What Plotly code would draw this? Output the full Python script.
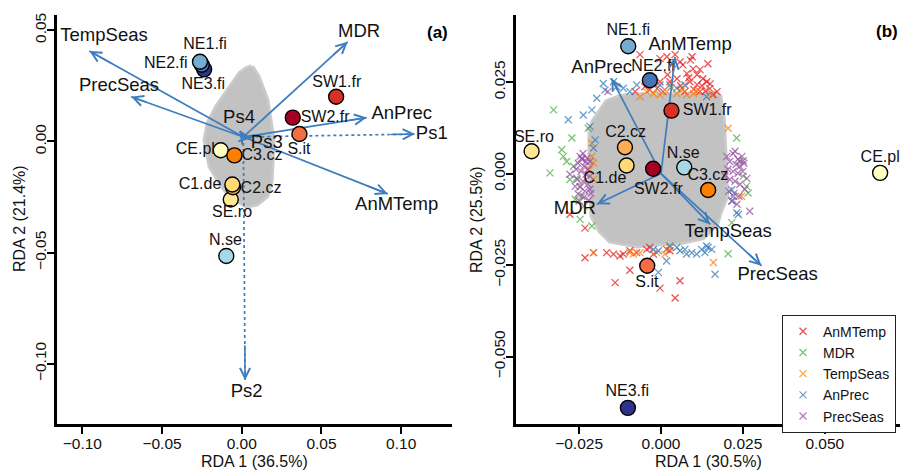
import plotly.graph_objects as go

FONT = "Liberation Sans, Arial, Helvetica, sans-serif"
ARROW_COL = "#3D7DBF"

# ---------------- site data ----------------
sites = ["SE.ro", "CE.pl", "C2.cz", "C1.de", "C3.cz", "S.it", "SW2.fr", "SW1.fr",
         "N.se", "NE3.fi", "NE2.fi", "NE1.fi"]
site_colors = ["#FEE795", "#FFFFC4", "#FDAE55", "#FED976", "#FC7F00", "#F46D43",
               "#A50026", "#D73027", "#A6D8E8", "#2E348C", "#4575B4", "#74ADD1"]

# panel (a) site scores and label positions
a_site_x = [-0.0069, -0.0132, -0.0055, -0.0059, -0.0046, 0.0362, 0.0320, 0.0592,
            -0.0097, -0.0236, -0.0251, -0.0262]
a_site_y = [-0.0261, -0.0040, -0.0206, -0.0194, -0.0063, 0.0033, 0.0107, 0.0201,
            -0.0515, 0.0324, 0.0345, 0.0358]
a_lab_x = [-0.0061, -0.0291, 0.0121, -0.0262, 0.0127, 0.0359, 0.0523, 0.0596,
           -0.0103, -0.0241, -0.0477, -0.0230]
a_lab_y = [-0.0321, -0.0040, -0.0212, -0.0194, -0.0067, -0.0037, 0.0104, 0.0264,
           -0.0448, 0.0254, 0.0350, 0.0433]

# panel (b) site scores and label positions
b_site_x = [-0.0395, 0.0669, -0.0110, -0.0105, 0.0144, -0.0042, -0.0024, 0.0032,
            0.0071, -0.0101, -0.0034, -0.0100]
b_site_y = [0.0061, 0.0002, 0.0072, 0.0022, -0.0045, -0.0252, 0.0013, 0.0172,
            0.0017, -0.0640, 0.0255, 0.0348]
b_lab_x = [-0.0388, 0.0669, -0.0108, -0.0171, 0.0143, -0.0043, -0.0008, 0.0141,
           0.0068, -0.0103, -0.0024, -0.0100]
b_lab_y = [0.0097, 0.0042, 0.0112, -0.0016, -0.0007, -0.0298, -0.0046, 0.0172,
           0.0053, -0.0597, 0.0290, 0.0389]

# ---------------- biplot arrows ----------------
a_origin = (0.001, 0.002)
a_vars = ["TempSeas", "PrecSeas", "MDR", "AnPrec", "AnMTemp", "Ps1", "Ps2", "Ps3", "Ps4"]
a_vx = [-0.0956, -0.0694, 0.0665, 0.0784, 0.0916, 0.1087, 0.0021, 0.0060, -0.0015]
a_vy = [0.0406, 0.0201, 0.0448, 0.0107, -0.0236, 0.0033, -0.1074, 0.0015, 0.0045]
a_dotted = [False, False, False, False, False, True, True, True, True]
a_vlab_x = [-0.0864, -0.0770, 0.0736, 0.1004, 0.0972, 0.1192, 0.0031, 0.0157, -0.0017]
a_vlab_y = [0.0474, 0.0246, 0.0489, 0.0120, -0.0286, 0.0033, -0.1127, -0.0008, 0.0104]

b_origin = (0.0, 0.0)
b_vars = ["AnMTemp", "AnPrec", "MDR", "TempSeas", "PrecSeas"]
b_vx = [0.0043, -0.0151, -0.0196, 0.0150, 0.0307]
b_vy = [0.0319, 0.0260, -0.0084, -0.0139, -0.0252]
b_vlab_x = [0.0089, -0.0181, -0.0263, 0.0205, 0.0356]
b_vlab_y = [0.0349, 0.0287, -0.0098, -0.0162, -0.0277]

# ---------------- SNP clouds (outline of the grey point mass) ----------------
a_cloud_x = [0.0063, 0.0102, 0.0157, 0.0178, 0.0196, 0.0190, 0.0184, 0.0157, 0.0094,
             0.0031, -0.0073, -0.0136, -0.0199, -0.0230, -0.0210, -0.0157, -0.0084,
             -0.0011, 0.0031]
a_cloud_y = [0.0336, 0.0291, 0.0188, 0.0081, 0.0009, -0.0090, -0.0179, -0.0246, -0.0282,
             -0.0291, -0.0246, -0.0188, -0.0112, 0.0009, 0.0082, 0.0157, 0.0233,
             0.0306, 0.0328]
b_cloud_x = [-0.00855, 0.01709, 0.01801, 0.01902, 0.01954, 0.02006, 0.01801, 0.01700,
             0.01282, 0.00580, -0.00131, -0.00742, -0.01557, -0.01862, -0.02106,
             -0.02167, -0.02167, -0.02076, -0.01658, -0.01252]
b_cloud_y = [0.02157, 0.02157, 0.02103, 0.01477, 0.00560, -0.00618, -0.01072, -0.01379,
             -0.01752, -0.01888, -0.01923, -0.01978, -0.01842, -0.01570, -0.01162,
             0.00063, 0.01151, 0.01423, 0.01967, 0.02103]

# ---------------- candidate SNPs coloured by strongest predictor (panel b) ----------------
anmtemp_x = [-0.0064, -0.0003, 0.0018, 0.0043, 0.0058, 0.0067, 0.0095, 0.0098, 0.0079, 0.0110,
             0.0119, 0.0128, 0.0140, 0.0149, 0.0159, 0.0110, 0.0088, 0.0049, 0.0027, -0.0003,
             -0.0012, 0.0006, 0.0119, -0.0049, -0.0034, 0.0073, 0.0171, -0.0079, 0.0143,
             0.0085, 0.0125, 0.0100, 0.0060, 0.0150, 0.0035, 0.0020, -0.0020, 0.0135, 0.0090,
             -0.0232, -0.0206, -0.0166, -0.0145, -0.0125, -0.0115, -0.0095, -0.0074, -0.0044,
             -0.0023, 0.0017, -0.0095, -0.0140, -0.0003, 0.0058, 0.0043, -0.0034, 0.0027,
             -0.0278, -0.0232]
anmtemp_y = [0.0325, 0.0314, 0.0319, 0.0325, 0.0305, 0.0297, 0.0319, 0.0286, 0.0273, 0.0270,
             0.0284, 0.0259, 0.0251, 0.0232, 0.0216, 0.0243, 0.0251, 0.0259, 0.0251, 0.0251,
             0.0232, 0.0224, 0.0224, 0.0237, 0.0229, 0.0224, 0.0224, 0.0224, 0.0300,
             0.0262, 0.0240, 0.0230, 0.0240, 0.0245, 0.0300, 0.0270, 0.0245, 0.0225, 0.0310,
             -0.0230, -0.0216, -0.0216, -0.0220, -0.0225, -0.0220, -0.0211, -0.0216, -0.0207,
             -0.0220, -0.0207, -0.0264, -0.0298, -0.0313, -0.0293, -0.0340, -0.0202, -0.0211,
             -0.0111, -0.0149]
mdr_x = [-0.0328, -0.0339, -0.0298, -0.0288, -0.0272, -0.0267, -0.0257, -0.0247, -0.0278,
         -0.0242, -0.0247, -0.0211, -0.0222, -0.0303, -0.0235, -0.0262,
         0.0231, 0.0251, 0.0261, 0.0266, 0.0216, 0.0205, 0.0241]
mdr_y = [0.0174, 0.0002, 0.0047, 0.0033, 0.0097, 0.0020, -0.0012, -0.0035, -0.0016,
         -0.0062, -0.0125, -0.0143, 0.0124, 0.0065, -0.0089, -0.0070,
         0.0097, -0.0007, -0.0035, -0.0053, -0.0134, -0.0219, 0.0033]
tempseas_x = [-0.0044, -0.0023, -0.0003, 0.0017, 0.0048, 0.0058, 0.0078, 0.0099, -0.0064, 0.0155,
              0.0030, 0.0065, 0.0110,
              -0.0206, -0.0095, -0.0084, -0.0064, -0.0013, 0.0012, 0.0027, 0.0160,
              -0.0211, -0.0206, -0.0206, -0.0211, -0.0219, 0.0205, 0.0246]
tempseas_y = [0.0224, 0.0219, 0.0215, 0.0224, 0.0219, 0.0228, 0.0215, 0.0219, 0.0210, 0.0215,
              0.0235, 0.0230, 0.0225,
              -0.0216, -0.0216, -0.0220, -0.0216, -0.0216, -0.0220, -0.0202, -0.0243,
              0.0047, 0.0029, -0.0016, 0.0083, 0.0011, 0.0124, -0.0062]
anprec_x = [-0.0176, -0.0171, -0.0145, -0.0135, -0.0115, -0.0095, -0.0074, -0.0023, -0.0003,
            0.0027, 0.0048, 0.0073, 0.0139, -0.0196,
            -0.0283, -0.0237, -0.0211, -0.0217, -0.0201, -0.0206,
            0.0216, 0.0221, 0.0216, 0.0231, 0.0236,
            -0.0023, -0.0008, 0.0027, 0.0048, 0.0058, 0.0073, 0.0078, 0.0094, 0.0109, 0.0124,
            0.0134, 0.0144, 0.0017, -0.0008, 0.0165, 0.0155, 0.0139]
anprec_y = [0.0246, 0.0228, 0.0251, 0.0237, 0.0233, 0.0224, 0.0242, 0.0260, 0.0242,
            0.0242, 0.0233, 0.0242, 0.0210, 0.0206,
            0.0147, 0.0160, 0.0174, 0.0129, 0.0092, 0.0070,
            -0.0044, -0.0062, -0.0075, -0.0107, -0.0112,
            -0.0207, -0.0211, -0.0198, -0.0202, -0.0211, -0.0207, -0.0220, -0.0216, -0.0220, -0.0207,
            -0.0216, -0.0202, -0.0239, -0.0270, -0.0275, -0.0207, -0.0198]
precseas_x = [-0.0247, -0.0238, -0.0226, -0.0217, -0.0253, -0.0235, -0.0223, -0.0244, -0.0229,
              -0.0217, -0.0256, -0.0238, -0.0223, -0.0247, -0.0232, -0.0217, -0.0253, -0.0235,
              -0.0220, -0.0241, -0.0259, -0.0262, -0.0229, -0.0214, -0.0250, -0.0278, -0.0242,
              0.0201, 0.0220, 0.0235, 0.0247, 0.0210, 0.0229, 0.0241, 0.0253, 0.0204, 0.0220,
              0.0235, 0.0250, 0.0210, 0.0226, 0.0241, 0.0207, 0.0223, 0.0238, 0.0256, 0.0217,
              0.0232, 0.0271, 0.0195, 0.0262, 0.0226, 0.0251, -0.0162]
precseas_y = [0.0047, 0.0055, 0.0042, 0.0033, 0.0028, 0.0020, 0.0012, 0.0006, -0.0002,
              -0.0007, -0.0016, -0.0021, -0.0029, -0.0037, -0.0048, -0.0043, -0.0056, -0.0064,
              -0.0073, 0.0039, 0.0012, -0.0035, 0.0033, -0.0054, -0.0075, -0.0002, 0.0042,
              0.0047, 0.0055, 0.0039, 0.0047, 0.0033, 0.0025, 0.0020, 0.0028, 0.0012, 0.0006,
              0.0001, 0.0006, -0.0016, -0.0021, -0.0029, -0.0048, -0.0054, -0.0062, -0.0043,
              -0.0075, -0.0084, -0.0103, -0.0007, -0.0013, 0.0061, 0.0035, 0.0224]

snp_groups = [("AnMTemp", anmtemp_x, anmtemp_y, "rgba(228,26,28,0.75)"),
              ("MDR", mdr_x, mdr_y, "rgba(77,175,74,0.75)"),
              ("TempSeas", tempseas_x, tempseas_y, "rgba(255,127,0,0.75)"),
              ("AnPrec", anprec_x, anprec_y, "rgba(55,126,184,0.75)"),
              ("PrecSeas", precseas_x, precseas_y, "rgba(152,78,163,0.75)")]

fig = go.Figure()


def add_cloud(xs, ys, xa, ya):
    fig.add_trace(go.Scatter(x=xs + [xs[0]], y=ys + [ys[0]], mode="lines", fill="toself",
                             fillcolor="#C2C2C2",
                             line=dict(color="rgba(194,194,194,0.85)", width=5),
                             hoverinfo="skip", showlegend=False, xaxis=xa, yaxis=ya))


def add_shafts(origin, vx, vy, dotted, xa, ya):
    for want_dot in (False, True):
        xs, ys = [], []
        for tx, ty, d in zip(vx, vy, dotted):
            if d == want_dot:
                xs += [origin[0], tx, None]
                ys += [origin[1], ty, None]
        if xs:
            fig.add_trace(go.Scatter(x=xs, y=ys, mode="lines",
                                     line=dict(color=ARROW_COL, width=1.7,
                                               dash="dot" if want_dot else "solid"),
                                     hoverinfo="skip", showlegend=False, xaxis=xa, yaxis=ya))


def head_annotations(origin, vx, vy, xr, yr):
    anns = []
    for tx, ty in zip(vx, vy):
        length = ((tx - origin[0]) ** 2 + (ty - origin[1]) ** 2) ** 0.5
        frac = 0.85 if length > 0.01 else 0.0
        anns.append(dict(x=tx, y=ty, ax=origin[0] + (tx - origin[0]) * frac,
                         ay=origin[1] + (ty - origin[1]) * frac,
                         xref=xr, yref=yr, axref=xr, ayref=yr, text="", showarrow=True,
                         arrowhead=5, arrowsize=1.25, arrowwidth=1.6, arrowcolor=ARROW_COL))
    return anns


def add_sites(xs, ys, lx, ly, xa, ya):
    fig.add_trace(go.Scatter(x=xs, y=ys, mode="markers",
                             marker=dict(size=15, color=site_colors,
                                         line=dict(color="black", width=1.4)),
                             hovertext=sites, showlegend=False, xaxis=xa, yaxis=ya))
    fig.add_trace(go.Scatter(x=lx, y=ly, mode="text", text=sites, textposition="middle center",
                             textfont=dict(size=16, color="#111111", family=FONT),
                             cliponaxis=False,
                             hoverinfo="skip", showlegend=False, xaxis=xa, yaxis=ya))


def add_var_labels(lx, ly, names, xa, ya):
    fig.add_trace(go.Scatter(x=lx, y=ly, mode="text", text=names, textposition="middle center",
                             textfont=dict(size=18.5, color="#111111", family=FONT),
                             cliponaxis=False,
                             hoverinfo="skip", showlegend=False, xaxis=xa, yaxis=ya))


# ----- panel (a) -----
add_cloud(a_cloud_x, a_cloud_y, "x", "y")
add_shafts(a_origin, a_vx, a_vy, a_dotted, "x", "y")
add_sites(a_site_x, a_site_y, a_lab_x, a_lab_y, "x", "y")
add_var_labels(a_vlab_x, a_vlab_y, a_vars, "x", "y")

# ----- panel (b) -----
add_cloud(b_cloud_x, b_cloud_y, "x2", "y2")
for name, xs, ys, col in snp_groups:
    fig.add_trace(go.Scatter(x=xs, y=ys, mode="markers", name=name,
                             marker=dict(symbol="x-thin", size=7, color=col,
                                         line=dict(color=col, width=1.3)),
                             xaxis="x2", yaxis="y2"))
add_shafts(b_origin, b_vx, b_vy, [False] * len(b_vx), "x2", "y2")
add_sites(b_site_x, b_site_y, b_lab_x, b_lab_y, "x2", "y2")
add_var_labels(b_vlab_x, b_vlab_y, b_vars, "x2", "y2")

annotations = head_annotations(a_origin, a_vx, a_vy, "x", "y") + \
    head_annotations(b_origin, b_vx, b_vy, "x2", "y2")

W, H = 900, 470
title_font = dict(size=16, family=FONT, color="#111111")
common = dict(xref="paper", yref="paper", showarrow=False, xanchor="center", yanchor="middle")
annotations += [
    dict(text="<b>(a)</b>", x=437 / W, y=1 - 31 / H,
         font=dict(size=17, family=FONT, color="black"), **common),
    dict(text="<b>(b)</b>", x=887 / W, y=1 - 30 / H,
         font=dict(size=17, family=FONT, color="black"), **common),
    dict(text="RDA 1 (36.5%)", x=254 / W, y=1 - 461 / H, font=title_font, **common),
    dict(text="RDA 1 (30.5%)", x=708 / W, y=1 - 461 / H, font=title_font, **common),
    dict(text="RDA 2 (21.4%)", x=19 / W, y=1 - 218 / H, textangle=-90, font=title_font,
         **common),
    dict(text="RDA 2 (25.5%)", x=476 / W, y=1 - 218 / H, textangle=-90, font=title_font,
         **common),
]

axis_style = dict(showline=True, linecolor="black", linewidth=2.5, ticks="outside", ticklen=7,
                  tickwidth=1.5, tickcolor="black", showgrid=False, zeroline=False,
                  tickfont=dict(size=15.5, family=FONT, color="#111111"))

ybot, ytop = 1 - 424.3 / H, 1 - 12.7 / H
fig.update_layout(
    width=W, height=H, margin=dict(l=0, r=0, t=0, b=0),
    paper_bgcolor="white", plot_bgcolor="white",
    font=dict(family=FONT, color="#111111"),
    xaxis=dict(domain=[57 / W, 451.7 / W], range=[-0.1159, 0.1317], ticklabelstandoff=-4,
               tickvals=[-0.10, -0.05, 0.0, 0.05, 0.10], tickformat=".2f", **axis_style),
    yaxis=dict(domain=[ybot, ytop], range=[-0.1273, 0.0570], anchor="x", ticklabelstandoff=-5,
               tickvals=[-0.10, -0.05, 0.0, 0.05], tickformat=".2f", tickangle=-90, **axis_style),
    xaxis2=dict(domain=[516 / W, 1.0], range=[-0.04426, 0.07296], anchor="y2",
                ticklabelstandoff=-4,
                tickvals=[-0.025, 0.0, 0.025, 0.05], tickformat=".3f", **axis_style),
    yaxis2=dict(domain=[ybot, ytop], range=[-0.06855, 0.04342], anchor="x2",
                ticklabelstandoff=-5,
                tickvals=[-0.05, -0.025, 0.0, 0.025], tickformat=".3f", tickangle=-90, **axis_style),
    legend=dict(x=896 / W, y=1 - 314 / H, xanchor="right", yanchor="top",
                bordercolor="#222222", borderwidth=1, bgcolor="white",
                font=dict(size=14, family=FONT, color="#111111"), tracegroupgap=0,
                itemwidth=30),
    annotations=annotations,
    showlegend=True,
)

fig.write_html("out.html", config={"displayModeBar": False},
               post_script="document.body.style.margin='0';document.body.style.overflow='hidden';")
